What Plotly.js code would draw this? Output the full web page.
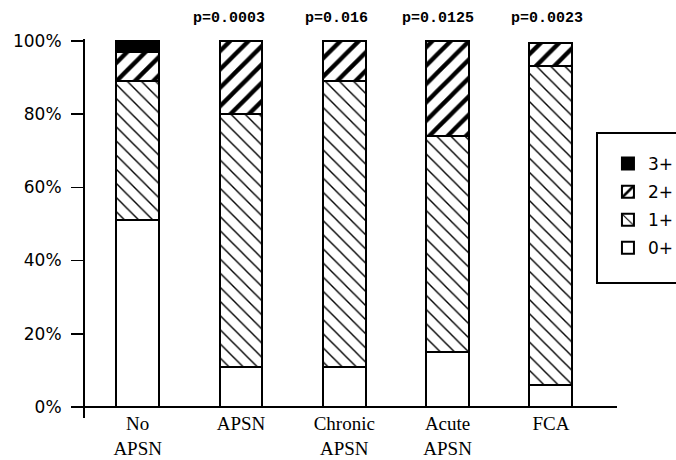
<!DOCTYPE html>
<html><head><meta charset="utf-8">
<script src="https://cdn.plot.ly/plotly-3.0.1.min.js"></script>
<style>html,body{margin:0;padding:0;background:#fff}#chart{width:676px;height:460px}</style>
</head><body><div id="chart"></div>
<script>
const categories = ['No<br>APSN', 'APSN', 'Chronic<br>APSN', 'Acute<br>APSN', 'FCA'];
const grade0 = [51, 11, 11, 15, 6];
const grade1 = [38, 69, 78, 59, 87];
const grade2 = [8, 20, 11, 26, 6.5];
const grade3 = [3, 0, 0, 0, 0];
const pValues = ['', 'p=0.0003', 'p=0.016', 'p=0.0125', 'p=0.0023'];
const seriesNames = ['0+', '1+', '2+', '3+'];
const tickVals = [0, 20, 40, 60, 80, 100];
const tickText = ['0%', '20%', '40%', '60%', '80%', '100%'];

// label placement offsets (px) for the p-value texts
const pShift = [0, -12, -8, -10, -4];

const outline = {color: '#000', width: 2};
function bar(name, y, pattern, color, rank) {
  return {
    type: 'bar', name: name, legendgroup: name, legendrank: rank,
    x: categories, y: y, width: 0.416,
    marker: {color: color, line: outline, pattern: pattern},
    hoverinfo: 'skip'
  };
}
const traces = [
  bar(seriesNames[0], grade0, {shape: ''}, '#fff', 4),
  bar(seriesNames[1], grade1, {shape: '\\', fgcolor: '#000', bgcolor: '#fff', fgopacity: 1, fillmode: 'overlay', size: 10, solidity: 0.14}, '#fff', 3),
  bar(seriesNames[2], grade2, {shape: '/', fgcolor: '#000', bgcolor: '#fff', fgopacity: 1, fillmode: 'overlay', size: 13, solidity: 0.33}, '#fff', 2),
  bar(seriesNames[3], grade3, {shape: ''}, '#000', 1)
];

const annotations = categories.map((c, i) => ({
  x: c, xref: 'x', y: 1.055, yref: 'paper', text: pValues[i], showarrow: false,
  xanchor: 'center', yanchor: 'middle', xshift: pShift[i],
  font: {family: 'Liberation Mono', size: 15, color: '#000', weight: 'bold'}
}));

const layout = {
  width: 676, height: 460,
  margin: {l: 85, r: 59, t: 39, b: 42, autoexpand: false},
  paper_bgcolor: '#fff', plot_bgcolor: '#fff',
  barmode: 'stack',
  showlegend: true,
  legend: {
    x: 0.983, xanchor: 'left', y: 0.7177, yanchor: 'top',
    traceorder: 'grouped', tracegroupgap: 3,
    borderwidth: 0, bgcolor: 'rgba(0,0,0,0)',
    font: {family: 'DejaVu Sans', size: 17, color: '#000'}
  },
  shapes: [{
    type: 'rect', xref: 'paper', yref: 'paper',
    x0: 0.9624, x1: 1.2, y0: (418 - 283) / 379, y1: (418 - 133) / 379,
    line: {color: '#000', width: 2}, fillcolor: 'rgba(0,0,0,0)', layer: 'above'
  }],
  xaxis: {
    type: 'category', range: [-0.51, 4.64],
    showline: false, showgrid: false, zeroline: false, ticks: '',
    ticklabelstandoff: -8,
    tickfont: {family: 'Liberation Serif', size: 19, color: '#000'}
  },
  yaxis: {
    range: [-3, 100.5], tickvals: tickVals, ticktext: tickText,
    showline: true, linecolor: '#000', linewidth: 2,
    ticks: 'outside', ticklen: 12, tickwidth: 1.5, tickcolor: '#000',
    ticklabelstandoff: 6,
    showgrid: false,
    zeroline: true, zerolinecolor: '#000', zerolinewidth: 2,
    tickfont: {family: 'DejaVu Sans', size: 17, color: '#000'}
  },
  annotations: annotations
};

Plotly.newPlot('chart', traces, layout, {displayModeBar: false, staticPlot: true});
</script>
</body></html>
